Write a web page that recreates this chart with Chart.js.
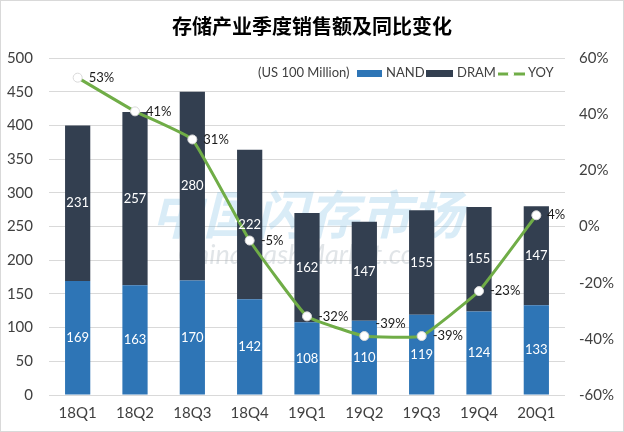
<!DOCTYPE html>
<html>
<head>
<meta charset="utf-8">
<script src="https://cdn.jsdelivr.net/npm/chart.js@4"></script>
<style>
  html, body { margin: 0; padding: 0; background: #fff; }
  #wrap { width: 622px; height: 430px; border: 1px solid #d9d9d9; position: relative; }
</style>
</head>
<body>
<div id="wrap"><canvas id="myChart" width="622" height="430"></canvas></div>
<script>
let quarters = ['18Q1','18Q2','18Q3','18Q4','19Q1','19Q2','19Q3','19Q4','20Q1'];
let nand = [169,163,170,142,108,110,119,124,133];
let dram = [231,257,280,222,162,147,155,155,147];
let yoy = [53,41,31,-5,-32,-39,-39,-23,4];

let nandColor = '#2e75b6';
let dramColor = '#333f50';
let yoyColor = '#70ad47';
let fontFam = 'Lato, "Noto Sans", sans-serif';

// 값 라벨 + 범례 + 워터마크
let extras = {
    id: 'extras',
    beforeDatasetsDraw: function(c) {
        let ctx = c.ctx;
        ctx.save();
        ctx.textAlign = 'center';
        ctx.textBaseline = 'middle';
        ctx.fillStyle = 'rgba(120,185,225,0.28)';
        ctx.font = 'italic bold 52px "Noto Sans CJK SC"';
        ctx.fillText('中国闪存市场', 306, 213);
        ctx.fillStyle = 'rgba(170,180,190,0.35)';
        ctx.font = 'italic 27px ' + fontFam;
        ctx.fillText('ChinaFlashMarket.com', 306, 254);
        ctx.restore();
    },
    afterDatasetsDraw: function(c) {
        let ctx = c.ctx;
        ctx.save();
        ctx.textBaseline = 'middle';
        // bar labels
        ctx.font = '13px ' + fontFam;
        ctx.fillStyle = '#ffffff';
        ctx.textAlign = 'center';
        [1, 2].forEach(function(di) {
            let meta = c.getDatasetMeta(di);
            meta.data.forEach(function(bar, i) {
                let v = c.data.datasets[di].data[i];
                ctx.fillText(v, bar.x, (bar.y + bar.base) / 2);
            });
        });
        // yoy labels (오른쪽, 다음 구간이 평평하면 위로)
        ctx.fillStyle = '#1a1a1a';
        ctx.textAlign = 'left';
        ctx.font = '13px ' + fontFam;
        let lm = c.getDatasetMeta(0);
        lm.data.forEach(function(p, i) {
            let dy = (i < yoy.length - 1 && yoy[i + 1] === yoy[i]) ? -12 : 0;
            ctx.fillText(yoy[i] + '%', p.x + 11, p.y + dy);
        });

        // legend
        let ly = 72;
        ctx.font = '13px ' + fontFam;
        ctx.fillStyle = '#404040';
        ctx.fillText('(US 100 Million)', 257, ly);
        ctx.fillStyle = nandColor;
        ctx.fillRect(356, ly - 3, 25, 7);
        ctx.fillStyle = '#404040';
        ctx.fillText('NAND', 385, ly);
        ctx.fillStyle = dramColor;
        ctx.fillRect(425, ly - 3, 27, 7);
        ctx.fillStyle = '#404040';
        ctx.fillText('DRAM', 456, ly);
        ctx.strokeStyle = yoyColor;
        ctx.lineWidth = 3;
        ctx.beginPath();
        ctx.moveTo(497, ly + 1);
        ctx.lineTo(524, ly + 1);
        ctx.stroke();
        ctx.fillStyle = '#fff';
        ctx.beginPath();
        ctx.arc(510, ly + 1, 3, 0, Math.PI * 2);
        ctx.fill();
        ctx.fillStyle = '#404040';
        ctx.fillText('YOY', 527, ly);
        ctx.restore();
    }
};

let myChart = new Chart(document.getElementById('myChart'), {
    type: 'bar',
    data: {
        labels: quarters,
        datasets: [
            {
                type: 'line',
                label: 'YOY',
                data: yoy,
                yAxisID: 'y1',
                borderColor: yoyColor,
                borderWidth: 3,
                pointBackgroundColor: '#ffffff',
                pointBorderColor: '#d9d9d9',
                pointBorderWidth: 1,
                pointRadius: 4.5,
                tension: 0.1,
                order: 0
            },
            {
                label: 'NAND',
                data: nand,
                backgroundColor: nandColor,
                yAxisID: 'y',
                order: 1
            },
            {
                label: 'DRAM',
                data: dram,
                backgroundColor: dramColor,
                yAxisID: 'y',
                order: 1
            }
        ]
    },
    options: {
        responsive: false,
        animation: false,
        barPercentage: 0.44,
        categoryPercentage: 1,
        layout: { padding: { bottom: 0 } },
        scales: {
            x: {
                stacked: true,
                grid: { display: false, drawTicks: false },
                border: { display: false },
                ticks: { color: '#404040', font: { size: 15, family: fontFam }, padding: 9 }
            },
            y: {
                stacked: true,
                min: 0, max: 500,
                position: 'left',
                grid: { color: '#d9d9d9', drawTicks: false },
                border: { display: false },
                ticks: { stepSize: 50, color: '#404040', font: { size: 15, family: fontFam }, padding: 16 },
                afterFit: function(s) { s.width = 48; }
            },
            y1: {
                min: -60, max: 60,
                position: 'right',
                grid: { display: false, drawTicks: false },
                border: { display: false },
                ticks: {
                    stepSize: 20, color: '#404040', font: { size: 15, family: fontFam }, padding: 14,
                    callback: function(v) { return v + '%'; }
                },
                afterFit: function(s) { s.width = 58; }
            }
        },
        plugins: {
            legend: { display: false },
            tooltip: { enabled: false },
            title: {
                display: true,
                text: '存储产业季度销售额及同比变化',
                color: '#000',
                font: { size: 20, weight: 'bold', family: '"Noto Sans CJK SC"' },
                padding: { top: 13, bottom: 20 }
            }
        }
    },
    plugins: [extras]
});
</script>
</body>
</html>
